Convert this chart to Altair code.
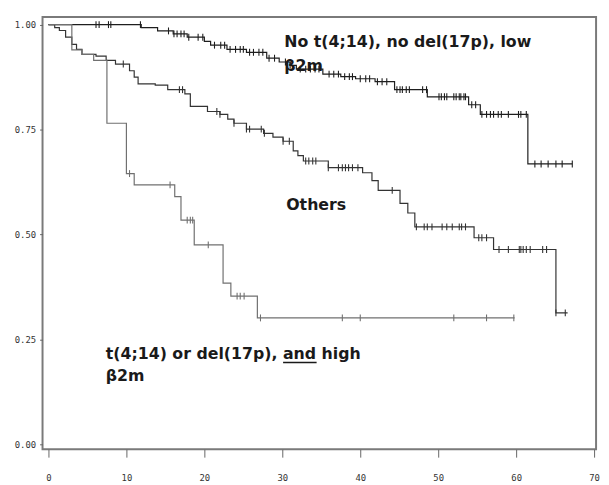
import altair as alt
import pandas as pd

# ---- data (months, survival) ----
low_times = [0, 11.9, 14.0, 16.0, 17.8, 20.0, 20.8, 22.9, 25.4, 28.0, 29.6, 31.0, 31.8, 35.2, 37.5, 39.4, 41.9, 44.4, 48.6, 53.9, 55.4, 61.5]
low_surv = [1.0, 0.993, 0.985, 0.978, 0.970, 0.960, 0.951, 0.941, 0.934, 0.920, 0.911, 0.903, 0.894, 0.882, 0.876, 0.871, 0.864, 0.845, 0.828, 0.809, 0.786, 0.668]
low_end = 67.2
low_cens = [6.1, 6.5, 7.7, 8.0, 11.8, 15.4, 16.1, 16.5, 17.0, 17.4, 18.0, 19.2, 19.8, 21.3, 22.1, 22.6, 23.3, 24.0,
            24.6, 25.0, 25.8, 26.3, 27.0, 27.5, 28.3, 29.0, 30.4, 31.0, 32.3, 33.0, 33.6, 34.2, 34.7, 36.0, 36.6,
            37.2, 38.0, 38.6, 39.0, 40.0, 40.7, 41.2, 42.2, 42.8, 43.4, 44.7, 45.1, 45.4, 45.9, 46.3, 48.0, 48.5,
            50.1, 50.4, 50.8, 51.1, 52.0, 52.3, 52.7, 52.9, 53.3, 53.5, 54.3, 54.8, 55.6, 56.2, 56.7, 57.1, 57.7,
            58.1, 59.0, 60.3, 60.6, 61.3, 62.4, 63.2, 64.1, 65.1, 65.9, 67.2]

oth_times = [0, 0.8, 1.4, 2.2, 3.0, 3.6, 4.3, 6.1, 7.4, 8.6, 10.4, 11.0, 11.5, 13.7, 15.3, 17.5, 18.2, 20.4, 22.0,
             23.0, 23.8, 25.4, 27.6, 28.8, 30.1, 31.4, 32.0, 32.7, 35.9, 40.3, 41.5, 42.3, 45.1, 46.1, 47.0, 54.6,
             57.1, 65.1]
oth_surv = [1.0, 0.993, 0.986, 0.970, 0.953, 0.941, 0.929, 0.925, 0.915, 0.906, 0.890, 0.875, 0.859, 0.856, 0.845,
            0.835, 0.805, 0.793, 0.786, 0.775, 0.765, 0.751, 0.741, 0.732, 0.722, 0.699, 0.688, 0.675, 0.659, 0.647,
            0.628, 0.605, 0.574, 0.551, 0.518, 0.492, 0.464, 0.313]
oth_end = 66.6
oth_cens = [9.6, 16.8, 17.2, 21.6, 22.0, 23.8, 25.4, 25.8, 27.3, 27.7, 30.1, 30.9, 33.0, 33.4, 33.9, 34.3, 35.9, 37.2,
            37.7, 38.1, 38.5, 39.0, 39.7, 44.1, 47.2, 48.2, 48.6, 49.2, 50.5, 51.1, 51.8, 52.7, 53.0, 53.5, 55.2,
            55.6, 56.2, 57.8, 59.0, 60.4, 60.6, 60.9, 61.3, 61.8, 63.4, 63.9, 65.1, 66.3]

hi_times = [0, 3.0, 4.3, 5.8, 7.5, 10.0, 11.0, 16.2, 17.0, 18.7, 22.4, 23.4, 26.8]
hi_surv = [1.0, 0.940, 0.929, 0.915, 0.765, 0.645, 0.618, 0.590, 0.534, 0.475, 0.384, 0.353, 0.301]
hi_end = 59.8
hi_cens = [10.4, 15.6, 17.8, 18.2, 18.5, 20.5, 24.2, 24.6, 25.1, 27.2, 37.7, 40.0, 52.0, 56.2, 59.7]

groups = ["low", "others", "high"]
group_colors = ["#1e1e1e", "#333333", "#707070"]

x_ticks = [0, 10, 20, 30, 40, 50, 60, 70]
y_ticks = [0.0, 0.25, 0.5, 0.75, 1.0]

ann_text = ["No t(4;14), no del(17p), low", "β2m", "Others", "t(4;14) or del(17p), and high", "β2m"]
ann_x = [30.25, 30.25, 30.5, 7.34, 7.34]
ann_y = [0.959, 0.902, 0.569, 0.214, 0.162]
underline_x = [30.1]
underline_x2 = [34.4]
underline_y = [0.195]


def step_value(times, surv, t):
    s = surv[0]
    for ti, si in zip(times, surv):
        if ti <= t:
            s = si
    return s


curves = [("low", low_times, low_surv, low_end, low_cens),
          ("others", oth_times, oth_surv, oth_end, oth_cens),
          ("high", hi_times, hi_surv, hi_end, hi_cens)]

line_rows, cens_rows = [], []
for name, times, surv, end, cens in curves:
    for t, s in zip(times, surv):
        line_rows.append({"group": name, "t": t, "s": s})
    line_rows.append({"group": name, "t": end, "s": surv[-1]})
    for c in cens:
        cens_rows.append({"group": name, "t": c, "s": step_value(times, surv, c)})

lines_df = pd.DataFrame(line_rows)
cens_df = pd.DataFrame(cens_rows)
ann_df = pd.DataFrame({"text": ann_text, "x": ann_x, "y": ann_y})
ul_df = pd.DataFrame({"x": underline_x, "x2": underline_x2, "y": underline_y})

xscale = alt.Scale(domain=[-0.76, 70.25], nice=False, zero=False)
yscale = alt.Scale(domain=[-0.012, 1.018], nice=False, zero=False)
cscale = alt.Scale(domain=groups, range=group_colors)

xaxis = alt.Axis(values=x_ticks, format="d", title=None, grid=False, domain=False, tickSize=8,
                 labelPadding=17, labelFont="DejaVu Sans Mono", labelFontSize=9, labelColor="#333",
                 tickColor="#666")
yaxis = alt.Axis(values=y_ticks, format=".2f", title=None, grid=False, domain=False, tickSize=3,
                 labelPadding=4, labelFont="DejaVu Sans Mono", labelFontSize=9, labelColor="#333",
                 tickColor="#666")

lines = alt.Chart(lines_df).mark_line(interpolate="step-after", strokeWidth=1.2).encode(
    x=alt.X("t:Q", scale=xscale, axis=xaxis),
    y=alt.Y("s:Q", scale=yscale, axis=yaxis),
    color=alt.Color("group:N", scale=cscale, legend=None),
    detail="group:N",
)

cens = alt.Chart(cens_df).mark_point(shape="M0,-1L0,1", size=49, filled=False, strokeWidth=1.1, opacity=1).encode(
    x=alt.X("t:Q", scale=xscale),
    y=alt.Y("s:Q", scale=yscale),
    color=alt.Color("group:N", scale=cscale, legend=None),
)

texts = alt.Chart(ann_df).mark_text(align="left", baseline="middle", font="DejaVu Sans", fontWeight="bold",
                                     fontSize=16, color="#1a1a1a").encode(
    x=alt.X("x:Q", scale=xscale),
    y=alt.Y("y:Q", scale=yscale),
    text="text:N",
)

underline = alt.Chart(ul_df).mark_rule(color="#1a1a1a", strokeWidth=1.5).encode(
    x=alt.X("x:Q", scale=xscale),
    x2="x2:Q",
    y=alt.Y("y:Q", scale=yscale),
)

chart = alt.layer(lines, cens, texts, underline).properties(
    width=561, height=438,
    background="white",
    autosize=alt.AutoSizeParams(type="none"),
    padding={"left": 35, "top": 6, "right": 5, "bottom": 30},
).configure_view(stroke="#7a7a7a", strokeWidth=2)

chart.save("out.html", embed_options={"renderer": "svg", "actions": False})
